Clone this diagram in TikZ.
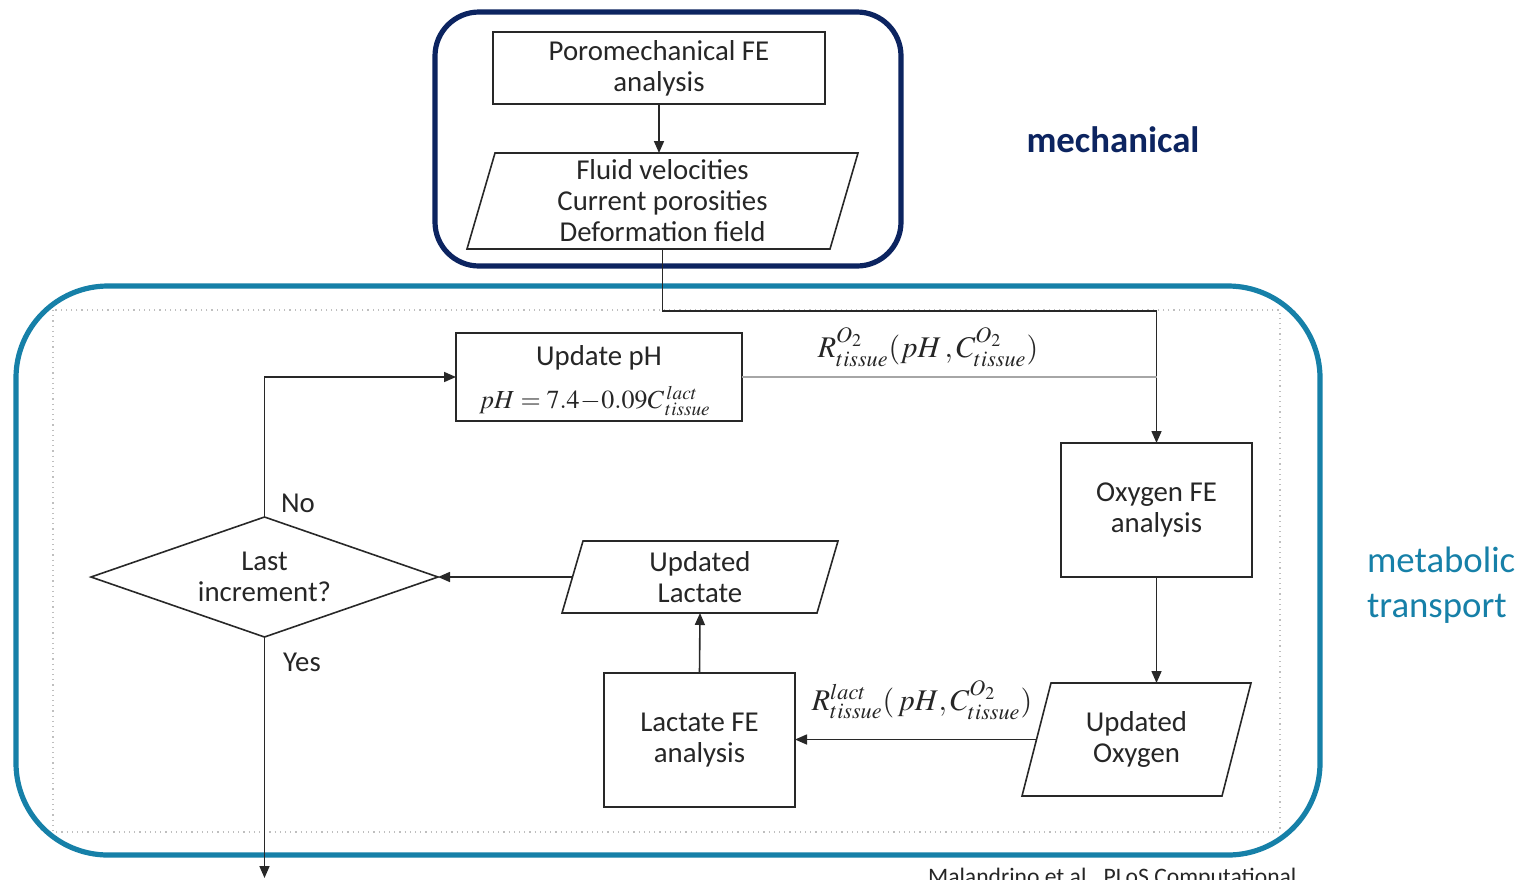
\documentclass[tikz,border=0pt]{standalone}
\usepackage{mathptmx}
\usepackage{fontspec}
\setmainfont{Carlito}
\usetikzlibrary{arrows.meta,shapes.geometric,calc}
\definecolor{mechnavy}{RGB}{12,36,96}
\definecolor{metablue}{RGB}{22,128,168}
\definecolor{lineblk}{RGB}{40,40,40}
\newcommand\paraoutline[2]{\draw[boxline] ([xshift=#2]#1.north west) -- ([xshift=#2]#1.north east) -- ([xshift=-#2]#1.south east) -- ([xshift=-#2]#1.south west) -- cycle;}
\begin{document}
\begin{tikzpicture}[x=0.5pt,y=-0.5pt,
  boxline/.style={draw=lineblk,line width=0.8pt},
  boxtext/.style={font=\fontsize{14.4}{15.5}\selectfont, align=center, text=black!85},
  procbox/.style={boxline, boxtext, rectangle, inner sep=0pt, outer sep=0pt},
  paratext/.style={boxtext, rectangle, inner sep=0pt, outer sep=0pt},
  arr/.style={draw=lineblk, line width=0.8pt, -{Triangle[length=6pt,width=5pt]}},
  conn/.style={draw=lineblk, line width=0.8pt},
  mathlbl/.style={font=\fontsize{15}{17}\selectfont, text=black!85},
  plain/.style={font=\fontsize{14.4}{15.5}\selectfont, text=black!85}]
\useasboundingbox (0,0) rectangle (1531,879);

% group frames
\draw[metablue, line width=2.6pt, rounded corners=46pt] (16,286) rectangle (1320,855);
\draw[gray!50, line width=0.6pt, dotted] (53,310) rectangle (1280,832);
\draw[mechnavy, line width=2.6pt, rounded corners=22pt] (435,12) rectangle (901,266);

% group labels
\node[font=\fontsize{18.4}{22}\selectfont\bfseries, text=mechnavy] (mechlbl) at (1113,140) {mechanical};
\node[font=\fontsize{18.4}{22.5}\selectfont, text=metablue, align=left, anchor=west] (metalbl) at (1360,585) {metabolic\\transport};
\node[font=\fontsize{11.8}{13}\selectfont, text=black!85, anchor=base west] (cite) at (921,884) {Malandrino et al., PLoS Computational};

% nodes
\node[procbox, minimum width=166pt, minimum height=36pt] (poro) at (659,68) {Poromechanical FE\\analysis};
\node[paratext, minimum width=181.5pt, minimum height=48pt] (fluid) at (662.5,201) {Fluid velocities\\Current porosities\\Deformation field};
\paraoutline{fluid}{7pt}

\node[procbox, minimum width=143pt, minimum height=44pt] (ph) at (599,377) {};
\node[plain] (phtitle) at (599,358) {Update pH};
\node[mathlbl, font=\fontsize{13}{15}\selectfont] (phformula) at (595,401) {$pH = 7.4\!-\!0.09C^{\,lact}_{\,tissue}$};

\node[procbox, minimum width=95.5pt, minimum height=67pt] (oxy) at (1156.5,510) {Oxygen FE\\analysis};
\node[paratext, minimum width=100pt, minimum height=56.5pt] (uoxy) at (1136.5,739.5) {Updated\\Oxygen};
\paraoutline{uoxy}{7.25pt}
\node[procbox, minimum width=95.5pt, minimum height=67pt] (lfe) at (699.5,740) {Lactate FE\\analysis};
\node[paratext, minimum width=127.5pt, minimum height=36pt] (ulac) at (700,577) {Updated\\Lactate};
\paraoutline{ulac}{5.25pt}
\node[boxline, boxtext, diamond, aspect=2.9, inner sep=0pt, outer sep=0pt, minimum width=173.5pt, minimum height=60pt] (dia) at (264.5,577) {Last\\increment?};

\coordinate (bend) at (1156.5,311);
\coordinate (out) at (264.5,878);

% connectors
\draw[arr] (poro.south) -- (poro.south |- fluid.north);
\draw[arr] (fluid.south) |- (bend) -- (oxy.north);
\draw[conn, draw=gray!70, line width=0.6pt] (ph.east) -- (ph.east -| bend);
\draw[arr] (oxy.south) -- (oxy.south |- uoxy.north);
\draw[arr] (uoxy.west) -- (lfe.east |- uoxy.west);
\draw[arr] (lfe.north) -- (ulac.south);
\draw[arr] (ulac.west) -- (dia.east);
\draw[arr] (dia.north) |- (ph.west);
\draw[arr] (dia.south) -- (out);

% connector labels
\node[mathlbl] (lblo2) at (928,347) {$R^{O_2}_{tissue}(pH\,, C^{O_2}_{tissue})$};
\node[mathlbl] (lbllact) at (922,700) {$R^{lact}_{tissue}(\,pH, C^{O_2}_{tissue})$};
\node[plain] (lblno) at (298,503) {No};
\node[plain] (lblyes) at (302,662) {Yes};
\end{tikzpicture}
\end{document}
